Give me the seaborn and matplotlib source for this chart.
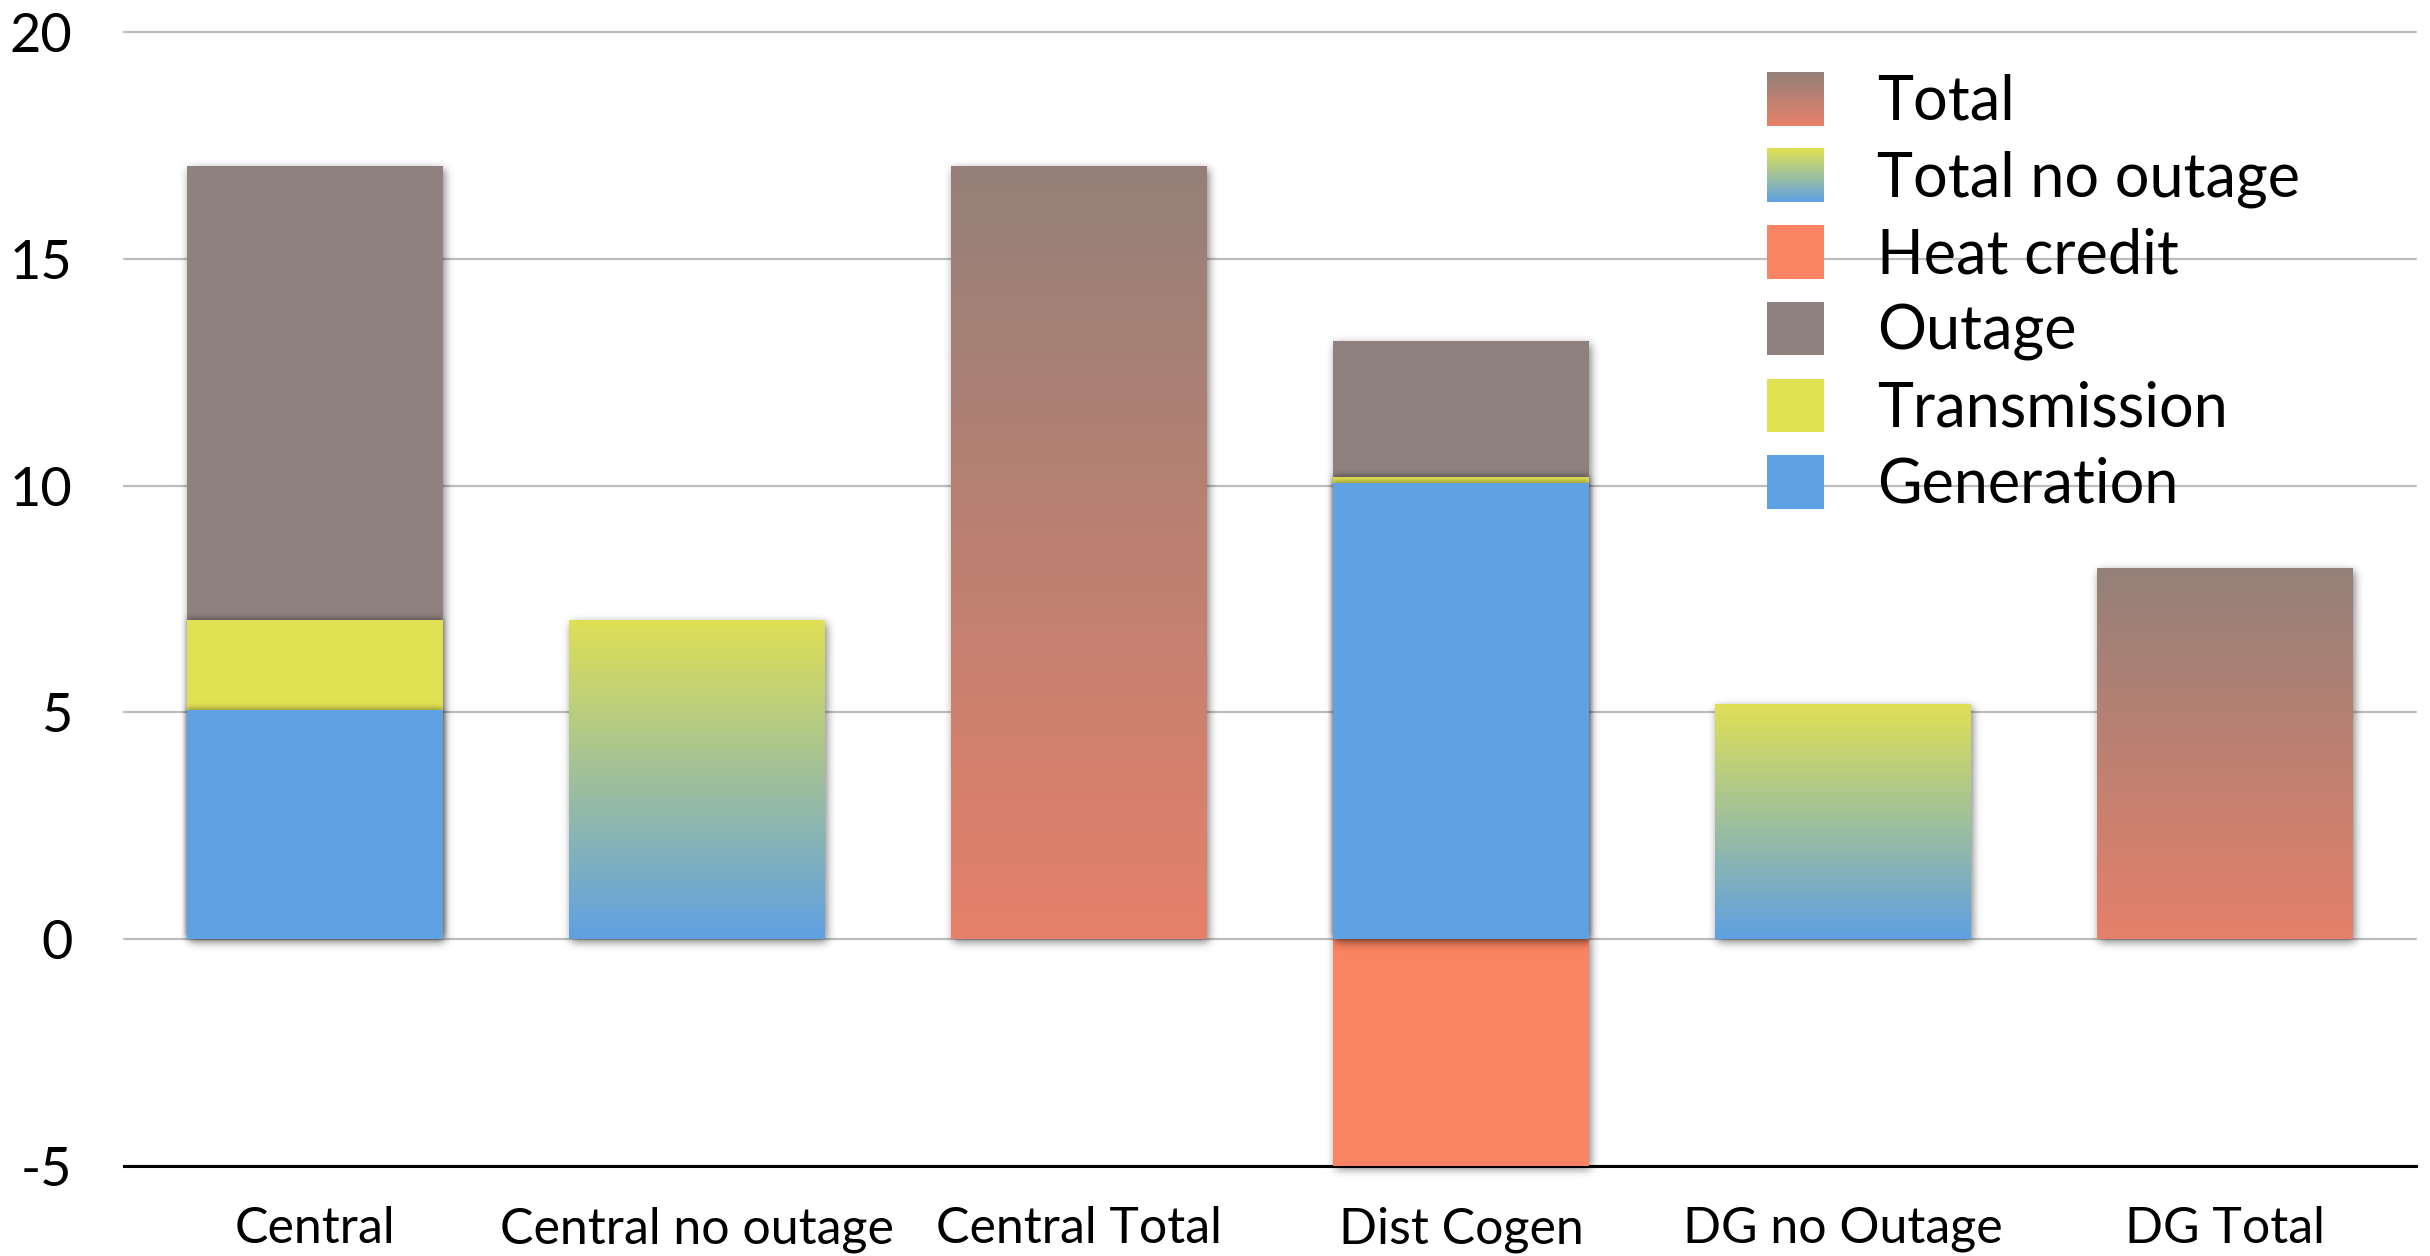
import numpy as np
import matplotlib
matplotlib.use("Agg")
import matplotlib.pyplot as plt
import seaborn as sns
from matplotlib.patches import Rectangle
from matplotlib.collections import PatchCollection
from matplotlib.legend_handler import HandlerBase
from matplotlib.colors import LinearSegmentedColormap, to_rgb

# ---------------------------------------------------------------- data
categories = ["Central", "Central no outage", "Central Total",
              "Dist Cogen", "DG no Outage", "DG Total"]
generation      = [5.06, 0, 0, 10.05, 0, 0]
transmission    = [1.97, 0, 0, 0.14, 0, 0]
outage          = [10.02, 0, 0, 3.00, 0, 0]
heat_credit     = [0, 0, 0, -5.00, 0, 0]
total_no_outage = [0, 7.03, 0, 0, 5.19, 0]
total           = [0, 0, 17.05, 0, 0, 8.19]
y_ticks = [-5, 0, 5, 10, 15, 20]

# ---------------------------------------------------------------- style
C_GEN = "#5fa2e3"
C_TRANS = "#e1e253"
C_OUT = "#8f817f"
C_HEAT = "#f98362"
GRAD_TOTAL = ("#e5816a", "#948079")        # bottom, top
GRAD_NO_OUT = ("#5fa0e2", "#dfe055")       # bottom, top
BAR_WIDTH = 0.67

sns.set_theme(style="white")
plt.rcParams["font.family"] = ["Lato", "DejaVu Sans"]
plt.rcParams["axes.unicode_minus"] = False
plt.rcParams["text.color"] = "black"

W, H = 2430, 1256
fig = plt.figure(figsize=(W / 100, H / 100), dpi=100)
ax = fig.add_axes([124 / W, 1 - 1166 / H, (2416 - 124) / W, (1166 - 32) / H])


def gaussian_blur(a, sigma):
    r = int(3 * sigma)
    xs = np.arange(-r, r + 1)
    k = np.exp(-xs ** 2 / (2.0 * sigma ** 2))
    k /= k.sum()
    out = np.zeros_like(a)
    p = np.pad(a, ((0, 0), (r, r)))
    for i, w in enumerate(k):
        out += w * p[:, i:i + a.shape[1]]
    p = np.pad(out, ((r, r), (0, 0)))
    out2 = np.zeros_like(a)
    for i, w in enumerate(k):
        out2 += w * p[i:i + a.shape[0], :]
    return out2


class SoftShadow:
    """agg filter: blurred, offset dark copy of the drawn shapes."""

    def __init__(self, sigma=4.0, alpha=0.5, dx=2, dy=-3):
        self.sigma, self.alpha, self.dx, self.dy = sigma, alpha, dx, dy

    def __call__(self, im, dpi):
        pad = int(3 * self.sigma) + 6
        a = np.pad(im[..., 3], pad)
        a = np.roll(a, self.dx, axis=1)
        a = np.roll(a, -self.dy, axis=0)
        a = gaussian_blur(a, self.sigma)
        out = np.zeros(a.shape + (4,), dtype=im.dtype)
        out[..., 3] = np.clip(a * self.alpha, 0, 1)
        return out, -pad, -pad


OUTER = SoftShadow(sigma=4.5, alpha=0.5, dx=2, dy=-3)
INNER = SoftShadow(sigma=3.0, alpha=0.35, dx=0, dy=2)


def add_shadow(bars, z, flt):
    rects = [Rectangle(b.get_xy(), b.get_width(), b.get_height()) for b in bars]
    if not rects:
        return
    coll = PatchCollection(rects, facecolor="black", edgecolor="none", zorder=z)
    coll.set_agg_filter(flt)
    ax.add_collection(coll, autolim=False)


def draw_layer(values, z, color=None, gradient=None, shadow=OUTER):
    vals = np.array(values, dtype=float)
    vals[vals == 0] = np.nan
    n0 = len(ax.patches)
    sns.barplot(x=categories, y=vals, order=categories, color=color or "white",
                width=BAR_WIDTH, saturation=1, errorbar=None, linewidth=0,
                edgecolor="none", zorder=z, ax=ax)
    bars = ax.patches[n0:]
    add_shadow(bars, z - 0.5, shadow)
    if gradient is not None:
        cmap = LinearSegmentedColormap.from_list("g", list(gradient))
        grad = np.linspace(0, 1, 256).reshape(-1, 1)
        for b in bars:
            x0, y0 = b.get_xy()
            im = ax.imshow(grad, extent=(x0, x0 + b.get_width(), y0, y0 + b.get_height()),
                           origin="lower", aspect="auto", cmap=cmap,
                           interpolation="bicubic", zorder=z + 0.1)
            im.set_clip_path(b)
    return bars


# stacked components are drawn as overlapping cumulative bars,
# the upper segment first so each lower segment sits on top of it
gen = np.array(generation)
trans = np.array(transmission)
outg = np.array(outage)

draw_layer(heat_credit, 2, color=C_HEAT)
draw_layer(gen + trans + outg, 3, color=C_OUT)
draw_layer(gen + trans, 4, color=C_TRANS, shadow=INNER)
draw_layer(gen, 5, color=C_GEN, shadow=INNER)
draw_layer(total_no_outage, 3, gradient=GRAD_NO_OUT)
draw_layer(total, 3, gradient=GRAD_TOTAL)

# ---------------------------------------------------------------- axes
ax.set_xlim(-0.5, len(categories) - 0.5)
ax.set_ylim(y_ticks[0], y_ticks[-1])
ax.set_yticks(y_ticks)
ax.set_yticklabels([str(t) for t in y_ticks])
ax.set_xlabel("")
ax.set_ylabel("")
ax.set_axisbelow(True)
ax.yaxis.grid(True, color="#bdbdbd", linewidth=1.6)
ax.xaxis.grid(False)
for gl in ax.get_ygridlines():
    gl.set_clip_on(False)
for side in ["top", "right", "left"]:
    ax.spines[side].set_visible(False)
ax.spines["bottom"].set_color("black")
ax.spines["bottom"].set_linewidth(2.2)
ax.spines["bottom"].set_zorder(1)
ax.tick_params(axis="x", length=0, pad=29, labelsize=36, colors="black")
ax.tick_params(axis="y", length=0, pad=37, labelsize=39, colors="black")
ax.set_facecolor("white")


# ---------------------------------------------------------------- legend
class GradientHandler(HandlerBase):
    def __init__(self, bottom, top, n=40):
        super().__init__()
        self.c0 = np.array(to_rgb(bottom))
        self.c1 = np.array(to_rgb(top))
        self.n = n

    def create_artists(self, legend, orig_handle, xdescent, ydescent,
                       width, height, fontsize, trans):
        arts = []
        h = height / self.n
        for i in range(self.n):
            f = i / (self.n - 1)
            c = self.c0 * (1 - f) + self.c1 * f
            arts.append(Rectangle((-xdescent, -ydescent + i * h), width, h * 1.05,
                                  facecolor=c, edgecolor="none", transform=trans))
        return arts


h_total = Rectangle((0, 0), 1, 1, label="Total")
h_noout = Rectangle((0, 0), 1, 1, label="Total no outage")
handles = [
    h_total,
    h_noout,
    Rectangle((0, 0), 1, 1, facecolor=C_HEAT, edgecolor="none"),
    Rectangle((0, 0), 1, 1, facecolor=C_OUT, edgecolor="none"),
    Rectangle((0, 0), 1, 1, facecolor=C_TRANS, edgecolor="none"),
    Rectangle((0, 0), 1, 1, facecolor=C_GEN, edgecolor="none"),
]
labels = ["Total", "Total no outage", "Heat credit", "Outage", "Transmission", "Generation"]
leg = fig.legend(handles, labels, loc="upper left",
                 bbox_to_anchor=(1767 / W, 1 - 72 / H),
                 frameon=False, fontsize=44, borderpad=0, borderaxespad=0,
                 handlelength=0.93, handleheight=0.97, handletextpad=0.87,
                 labelspacing=0.29, labelcolor="black",
                 handler_map={h_total: GradientHandler(*GRAD_TOTAL),
                              h_noout: GradientHandler(*GRAD_NO_OUT)})

fig.savefig("out.png", dpi=100, facecolor="white")
